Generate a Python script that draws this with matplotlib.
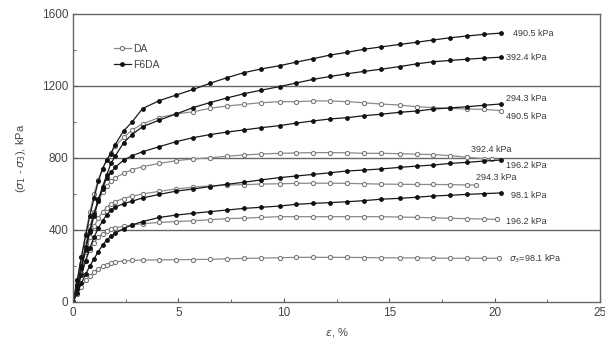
import matplotlib
matplotlib.use("Agg")
import matplotlib.pyplot as plt
from matplotlib.ticker import MultipleLocator

plt.rcParams['font.family'] = ['Liberation Sans', 'DejaVu Sans']

# axial strain (%) at the recorded points
strain = [0, 0.2, 0.4, 0.6, 0.8, 1.0, 1.2, 1.4, 1.6, 1.8, 2.0, 2.4, 2.8, 3.3, 4.1, 4.9,
          5.7, 6.5, 7.3, 8.1, 8.9, 9.8, 10.6, 11.4, 12.2, 13.0, 13.8, 14.6, 15.5,
          16.3, 17.1, 17.9, 18.7, 19.5, 20.3]
strain_da392 = strain[:-1] + [19.9]
strain_da294 = strain[:-2] + [19.1]
strain_da196 = strain[:-1] + [20.1]
strain_da98 = strain[:-1] + [20.2]

# deviator stress (kPa), F6DA specimens
f6da_490 = [0, 120, 250, 370, 480, 580, 670, 740, 789, 825, 875, 950, 1000, 1075, 1119, 1150,
            1181, 1215, 1246, 1274, 1294, 1313, 1333, 1352, 1372, 1387, 1404, 1417, 1431,
            1443, 1456, 1468, 1478, 1487, 1494]
f6da_392 = [0, 95, 200, 305, 400, 490, 570, 640, 706, 770, 810, 885, 930, 974, 1011, 1045,
            1080, 1108, 1133, 1157, 1176, 1197, 1217, 1237, 1253, 1268, 1281, 1293, 1308,
            1323, 1335, 1342, 1349, 1355, 1360]
f6da_294 = [0, 90, 190, 290, 390, 480, 560, 630, 690, 720, 748, 788, 812, 835, 863, 891,
            913, 930, 944, 956, 968, 980, 994, 1006, 1017, 1024, 1035, 1043, 1054,
            1061, 1072, 1078, 1085, 1093, 1100]
f6da_196 = [0, 70, 150, 230, 300, 360, 410, 450, 485, 510, 528, 546, 560, 578, 598, 616,
            628, 641, 654, 665, 678, 691, 700, 709, 718, 728, 733, 739, 748,
            755, 761, 770, 776, 783, 789]
f6da_98 = [0, 50, 105, 155, 200, 240, 280, 315, 345, 365, 382, 408, 428, 447, 470, 483,
           493, 502, 511, 520, 526, 533, 543, 548, 552, 557, 563, 571, 576,
           582, 589, 593, 598, 602, 606]

# deviator stress (kPa), DA specimens
da_490 = [0, 120, 250, 380, 500, 600, 680, 740, 790, 830, 865, 915, 955, 990, 1025, 1045,
          1057, 1076, 1089, 1098, 1107, 1113, 1113, 1117, 1117, 1113, 1107, 1100, 1094,
          1085, 1080, 1076, 1072, 1070, 1063]
da_392 = [0, 100, 210, 320, 420, 500, 560, 610, 645, 670, 690, 715, 735, 752, 770, 785,
          795, 801, 810, 817, 822, 826, 828, 830, 830, 829, 826, 826, 824,
          821, 819, 813, 804, 796, 793]
da_294 = [0, 90, 190, 280, 360, 420, 465, 500, 525, 545, 558, 575, 588, 600, 615, 628,
          638, 645, 650, 652, 655, 657, 659, 660, 660, 659, 657, 655, 654,
          653, 653, 652, 650, 650]
da_196 = [0, 80, 160, 230, 290, 330, 360, 380, 395, 405, 412, 420, 428, 435, 442, 447,
          451, 457, 463, 466, 470, 474, 474, 474, 474, 474, 474, 474, 472,
          470, 468, 465, 463, 461, 459]
da_98 = [0, 45, 85, 120, 145, 165, 185, 198, 208, 216, 222, 228, 231, 233, 234, 235,
         236, 237, 240, 242, 244, 246, 248, 248, 248, 248, 247, 246, 245,
         245, 244, 243, 243, 243, 243]

# end-of-curve labels: (x, y, text)
labels = [
    (20.85, 1494, '490.5 kPa'),
    (20.55, 1360, '392.4 kPa'),
    (20.55, 1128, '294.3 kPa'),
    (20.55, 1028, '490.5 kPa'),
    (18.9, 846, '392.4 kPa'),
    (20.55, 761, '196.2 kPa'),
    (19.1, 689, '294.3 kPa'),
    (20.8, 589, '98.1 kPa'),
    (20.55, 450, '196.2 kPa'),
    (20.7, 239, r'$\sigma_3$=98.1 kPa'),
]

fig = plt.figure(figsize=(6.05, 3.41), dpi=100)
ax = fig.add_axes([73/605, 1 - 302/341, 527/605, 288/341])

da_style = dict(color='#8a8a8a', lw=0.9, marker='o', ms=3, mfc='white',
                mec='#7a7a7a', mew=0.8)
f6_style = dict(color='#1a1a1a', lw=0.9, marker='o', ms=2.8, mfc='#111111',
                mec='#111111', mew=0.6)

ax.plot(strain_da98, da_98, **da_style)
ax.plot(strain_da196, da_196, **da_style)
ax.plot(strain_da294, da_294, **da_style)
ax.plot(strain_da392, da_392, **da_style)
ax.plot(strain, da_490, label='DA', **da_style)

ax.plot(strain, f6da_98, **f6_style)
ax.plot(strain, f6da_196, **f6_style)
ax.plot(strain, f6da_294, **f6_style)
ax.plot(strain, f6da_392, **f6_style)
ax.plot(strain, f6da_490, label='F6DA', **f6_style)

for x, y, t in labels:
    ax.text(x, y, t, fontsize=6.5, color='#3a3a3a', va='center', ha='left')

ax.set_xlim(0, 25)
ax.set_ylim(0, 1600)
ax.xaxis.set_major_locator(MultipleLocator(5))
ax.xaxis.set_minor_locator(MultipleLocator(2.5))
ax.yaxis.set_major_locator(MultipleLocator(400))
ax.yaxis.set_minor_locator(MultipleLocator(200))
ax.tick_params(which='both', direction='in', top=False, right=False,
               colors='#555555', labelcolor='#444444', labelsize=8.5)
ax.tick_params(which='major', length=3)
ax.tick_params(which='minor', length=2)

for v in (400, 800, 1200):
    ax.axhline(v, color='#666666', lw=1.0, zorder=0)

for s in ax.spines.values():
    s.set_color('#666666')
    s.set_linewidth(1.0)

ax.set_xlabel(r'$\varepsilon$, %', fontsize=8, color='#444444', labelpad=5)
ax.set_ylabel(r'($\sigma_1$ - $\sigma_3$), kPa', fontsize=8, color='#444444',
              labelpad=10)

ax.legend(loc='upper left', bbox_to_anchor=(0.06, 0.93), frameon=False,
          fontsize=7.5, handlelength=1.6, handletextpad=0.2, labelspacing=0.6,
          labelcolor='#444444')

fig.savefig('out.png', dpi=100)
